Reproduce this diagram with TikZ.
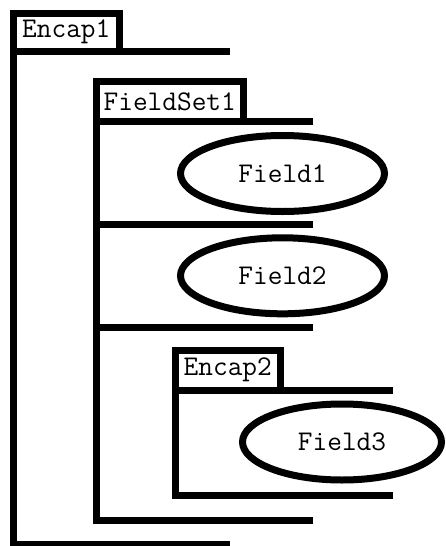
\documentclass[tikz,border=0pt]{standalone}
\usepackage{fontspec}
\usetikzlibrary{shapes.geometric}
\begin{document}
\begin{tikzpicture}[x=1pt,y=-1pt,line width=7pt,line join=miter,line cap=butt,
  lbl/.style={draw,rectangle,inner sep=0pt,outer sep=0pt,font=\ttfamily\fontsize{28.5}{32}\selectfont},
  fld/.style={draw,ellipse,inner sep=0pt,outer sep=0pt,minimum width=204pt,minimum height=76pt,font=\ttfamily\fontsize{28.5}{32}\selectfont}]
\useasboundingbox (0,0) rectangle (446,546);
% Encap1
\node[lbl,minimum width=105.5pt,minimum height=38.5pt] (e1) at (66.25,32.25) {Encap1};
\coordinate (e1end) at (230,51.5);
\coordinate (e1bl) at (13.5,544.5);
\coordinate (e1br) at (230,544.5);
\draw (e1.south east) -- (e1end);
\draw (e1.north west) -- (e1bl) -- (e1br);
% FieldSet1
\node[lbl,minimum width=147.5pt,minimum height=40pt] (fs1) at (169.75,101.5) {FieldSet1};
\coordinate (fs1end) at (313,121.5);
\coordinate (s1l) at (96,224);
\coordinate (s1r) at (313,224);
\coordinate (s2l) at (96,327);
\coordinate (s2r) at (313,327);
\coordinate (fs1bl) at (96,520);
\coordinate (fs1br) at (313,520);
\draw (fs1.south east) -- (fs1end);
\draw (s1l) -- (s1r);
\draw (s2l) -- (s2r);
\draw (fs1.north west) -- (fs1bl) -- (fs1br);
% Fields
\node[fld] (f1) at (282.5,173.5) {Field1};
\node[fld] (f2) at (282.5,275.8) {Field2};
% Encap2
\node[lbl,minimum width=105.5pt,minimum height=40.5pt] (e2) at (227.75,370.25) {Encap2};
\coordinate (e2end) at (393,390.5);
\coordinate (e2bl) at (175,495);
\coordinate (e2br) at (393,495);
\draw (e2.south east) -- (e2end);
\draw (e2.north west) -- (e2bl) -- (e2br);
\node[fld,minimum width=199pt] (f3) at (342,442) {Field3};
\end{tikzpicture}
\end{document}
